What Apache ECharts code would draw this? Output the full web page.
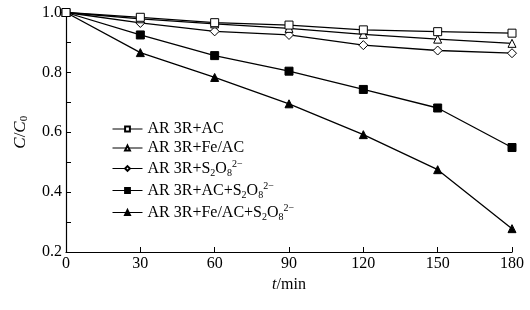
<!DOCTYPE html>
<html>
<head>
<meta charset="utf-8">
<script src="https://cdn.jsdelivr.net/npm/echarts@6/dist/echarts.min.js"></script>
<style>
  html, body { margin: 0; padding: 0; background: #fff; }
  #chart { width: 530px; height: 310px; }
</style>
</head>
<body>
<div id="chart"></div>
<script>
// time points (min)
const times = [0, 30, 60, 90, 120, 150, 180];

// C/C0 values
const arAC = [1.0, 0.984, 0.966, 0.958, 0.942, 0.936, 0.931];
const arFeAC = [1.0, 0.979, 0.962, 0.947, 0.927, 0.911, 0.897];
const arPS = [1.0, 0.965, 0.937, 0.925, 0.891, 0.873, 0.864];
const arACPS = [1.0, 0.925, 0.856, 0.804, 0.743, 0.681, 0.549];
const arFeACPS = [1.0, 0.866, 0.783, 0.695, 0.592, 0.475, 0.278];

const names = [
  "AR 3R+AC",
  "AR 3R+Fe/AC",
  "AR 3R+S2O8",
  "AR 3R+AC+S2O8",
  "AR 3R+Fe/AC+S2O8",
];

const font = "Liberation Serif";

const pairs = (vals) => times.map((t, i) => [t, vals[i]]);

const chart = echarts.init(document.getElementById("chart"));

const mkSeries = (name, vals, symbol, filled, z) => ({
  name: name,
  type: "line",
  data: pairs(vals),
  symbol: symbol,
  symbolSize: symbol === "diamond" ? 9 : 8,
  showAllSymbol: true,
  z: z,
  lineStyle: { color: "#000", width: 1.3 },
  itemStyle: {
    color: filled ? "#000" : "#fff",
    borderColor: "#000",
    borderWidth: 1,
  },
  emphasis: { disabled: true },
});

const legendText = {
  "AR 3R+AC": "AR 3R+AC",
  "AR 3R+Fe/AC": "AR 3R+Fe/AC",
  "AR 3R+S2O8": "AR 3R+S{sub|2}O{sub|8}{sup|2−}",
  "AR 3R+AC+S2O8": "AR 3R+AC+S{sub|2}O{sub|8}{sup|2−}",
  "AR 3R+Fe/AC+S2O8": "AR 3R+Fe/AC+S{sub|2}O{sub|8}{sup|2−}",
};

const option = {
  animation: false,
  backgroundColor: "#fff",
  textStyle: { fontFamily: font, color: "#000" },
  grid: { left: 66, right: 18, top: 12.5, bottom: 58 },
  legend: {
    orient: "vertical",
    left: 107,
    top: 116,
    itemWidth: 30,
    itemHeight: 6,
    itemGap: 3,
    data: names,
    formatter: (n) => legendText[n],
    lineStyle: { width: 1 },
    textStyle: {
      fontFamily: font,
      fontSize: 16,
      color: "#000",
      rich: {
        sub: { fontFamily: font, fontSize: 10, padding: [9, 0, 0, 0] },
        sup: { fontFamily: font, fontSize: 10, padding: [0, 0, 9, 0] },
      },
    },
  },
  xAxis: {
    type: "value",
    min: 0,
    max: 180,
    interval: 30,
    name: "{i|t}/min",
    nameLocation: "middle",
    nameGap: 25,
    nameTextStyle: {
      fontFamily: font,
      fontSize: 16,
      color: "#000",
      rich: { i: { fontFamily: font, fontSize: 16, fontStyle: "italic" } },
    },
    axisLine: { lineStyle: { color: "#000", width: 1.2 } },
    axisTick: { inside: true, length: 5, lineStyle: { color: "#000" } },
    axisLabel: { fontFamily: font, fontSize: 16, color: "#000", margin: 4 },
    splitLine: { show: false },
  },
  yAxis: {
    type: "value",
    min: 0.2,
    max: 1.0,
    interval: 0.2,
    name: "{i|C}/{i|C}{sub|0}",
    nameLocation: "middle",
    nameGap: 36,
    nameRotate: 90,
    nameTextStyle: {
      fontFamily: font,
      fontSize: 17,
      color: "#000",
      rich: {
        i: { fontFamily: font, fontSize: 17, fontStyle: "italic" },
        sub: { fontFamily: font, fontSize: 11, padding: [8, 0, 0, 0] },
      },
    },
    axisLine: { show: true, lineStyle: { color: "#000", width: 1.2 } },
    axisTick: { show: true, inside: true, length: 5, lineStyle: { color: "#000" } },
    minorTick: { show: true, splitNumber: 2, length: 5, lineStyle: { color: "#000" } },
    axisLabel: {
      fontFamily: font,
      fontSize: 16,
      color: "#000",
      margin: 4,
      formatter: (v) => v.toFixed(1),
    },
    splitLine: { show: false },
  },
  series: [
    mkSeries(names[4], arFeACPS, "triangle", true, 2),
    mkSeries(names[3], arACPS, "rect", true, 3),
    mkSeries(names[2], arPS, "diamond", false, 4),
    mkSeries(names[1], arFeAC, "triangle", false, 5),
    mkSeries(names[0], arAC, "rect", false, 6),
  ],
};

chart.setOption(option);
</script>
</body>
</html>
